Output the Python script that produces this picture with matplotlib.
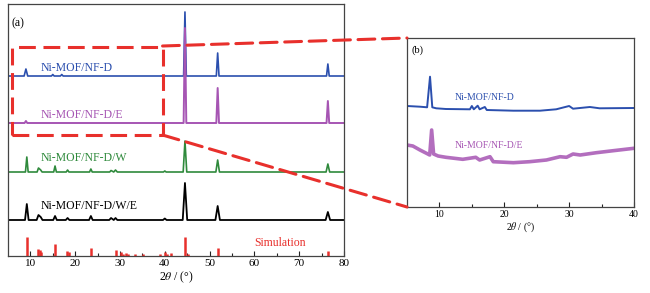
import matplotlib

matplotlib.use("Agg")
import matplotlib.pyplot as plt
from matplotlib.patches import Rectangle, ConnectionPatch

plt.rcParams["font.family"] = ["Liberation Serif", "DejaVu Serif"]
plt.rcParams["mathtext.fontset"] = "stix"

# panel (a): 2theta / intensity above each trace's own baseline
d_x = [5, 8.6, 9.0, 9.4, 14.7, 15.0, 15.3, 16.7, 17.0, 17.3, 44.2, 44.5, 44.8,
       51.5, 51.8, 52.1, 76.1, 76.4, 76.7, 80]
d_y = [0, 0, 7, 0, 0, 1.5, 0, 0, 1.5, 0, 0, 64, 0, 0, 23, 0, 0, 12, 0, 0]

de_x = [5, 8.7, 9.0, 9.3, 44.2, 44.5, 44.8, 51.5, 51.8, 52.1, 76.1, 76.4, 76.7, 80]
de_y = [0, 0, 2, 0, 0, 95, 0, 0, 35, 0, 0, 22, 0, 0]

dw_x = [5, 8.9, 9.2, 9.5, 11.5, 11.8, 12.3, 12.6, 15.2, 15.5, 15.8, 18.0, 18.3, 18.6,
        23.2, 23.5, 23.8, 27.7, 28.0, 28.6, 29.0, 29.4, 39.7, 40.0, 40.3,
        44.1, 44.5, 44.9, 51.4, 51.8, 52.2, 76.0, 76.4, 76.8, 80]
dw_y = [0, 0, 15, 0, 0, 4, 2, 0, 0, 6, 0, 0, 2, 0,
        0, 3, 0, 0, 1.5, 0, 2, 0, 0, 1, 0,
        0, 31, 0, 0, 12, 0, 0, 8, 0, 0]

dwe_x = [5, 8.8, 9.2, 9.6, 11.4, 11.8, 12.3, 12.7, 15.1, 15.5, 15.9, 17.9, 18.3, 18.7,
         23.1, 23.5, 23.9, 27.6, 28.0, 28.6, 29.0, 29.4, 39.6, 40.0, 40.4,
         44.0, 44.5, 45.0, 51.3, 51.8, 52.3, 75.9, 76.4, 76.9, 80]
dwe_y = [0, 0, 16, 0, 0, 5, 3, 0, 0, 4, 0, 0, 2, 0,
         0, 4, 0, 0, 2, 0, 2, 0, 0, 1.5, 0,
         0, 37, 0, 0, 14, 0, 0, 8, 0, 0]

sim_pos = [9.3, 11.8, 12.1, 12.4, 15.2, 15.6, 18.2, 18.6, 23.6, 29.1, 30.2, 30.7,
           31.3, 31.7, 33.4, 35.2, 38.9, 40.0, 40.6, 41.4, 44.5, 45.1, 51.8, 76.4]
sim_int = [19, 7, 6, 4, 1, 12, 5, 4, 8, 5.7, 4, 2.3,
           3.3, 2.3, 1.7, 2.3, 2.3, 4, 2.3, 3, 19, 2.3, 8.3, 4.7]

# panel (b): zoom 5-40 degrees
b_d_x = [5, 7, 8.1, 8.55, 8.9, 9.5, 11, 14.7, 15.0, 15.3, 15.9, 16.2, 17.0, 17.3,
         21.4, 25.5, 28, 30, 30.6, 33.2, 34.7, 40]
b_d_y = [101, 100.3, 99.7, 130.3, 99.7, 98.7, 98, 97.7, 101, 97.7, 101.3, 97.7, 100, 97,
         96.3, 96.3, 97.7, 101, 98.3, 100, 98.7, 99]

b_de_x = [5, 5.9, 7, 8, 8.5, 8.8, 9.1, 9.8, 11, 13.6, 15.6, 16.2, 17.8, 18.3,
          21.4, 23.9, 26.5, 28.6, 29.6, 30.6, 31.7, 34.2, 36.8, 40]
b_de_y = [62, 61, 57, 53.7, 52, 77, 53, 51, 49.7, 47.7, 49.7, 47, 50.3, 45.3,
          44.3, 45.3, 47, 50.3, 49.7, 53, 52, 54.3, 56.3, 58.7]

BLUE = "#2b4fae"
PURPLE = "#a655b3"
GREEN = "#2f8a3c"
RED = "#e8302c"
FRAME = "#444444"


def style_axes(ax, xticks, minor):
    for s in ax.spines.values():
        s.set_color(FRAME)
        s.set_linewidth(0.9)
    ax.set_yticks([])
    ax.set_xticks(xticks)
    ax.set_xticks(minor, minor=True)
    ax.tick_params(axis="x", which="major", direction="in", length=3.5, width=0.8,
                   pad=2, labelsize=8, color="#222222")
    ax.tick_params(axis="x", which="minor", direction="in", length=2, width=0.8,
                   color="#222222")


fig = plt.figure(figsize=(6.5, 2.93), dpi=100)
ax_a = fig.add_axes([8 / 650, 37 / 293, 336 / 650, 252 / 293])
ax_b = fig.add_axes([407 / 650, 86 / 293, 227 / 650, 169 / 293])

# panel (a)
ax_a.vlines(sim_pos, 0, sim_int, color=RED, lw=1.8)
ax_a.plot(dwe_x, [v + 36 for v in dwe_y], color="black", lw=1.3)
ax_a.plot(dw_x, [v + 84 for v in dw_y], color=GREEN, lw=1.2)
ax_a.plot(d_x, [v + 180 for v in d_y], color=BLUE, lw=1.2)
ax_a.plot(de_x, [v + 133 for v in de_y], color=PURPLE, lw=1.4)
ax_a.set_xlim(5, 80)
ax_a.set_ylim(0, 252)
style_axes(ax_a, [10, 20, 30, 40, 50, 60, 70, 80], [15, 25, 35, 45, 55, 65, 75])
ax_a.set_xlabel(r"2$\theta$ / (°)", fontsize=8.5, labelpad=1)

ax_a.text(12.2, 188, "Ni-MOF/NF-D", color=BLUE, fontsize=8.5, va="center")
ax_a.text(12.2, 141, "Ni-MOF/NF-D/E", color=PURPLE, fontsize=8.5, va="center")
ax_a.text(12.2, 98, "Ni-MOF/NF-D/W", color=GREEN, fontsize=8.5, va="center")
ax_a.text(12.2, 50, "Ni-MOF/NF-D/W/E", color="black", fontsize=8.5, va="center")
ax_a.text(65.7, 13, "Simulation", color=RED, fontsize=8.5, ha="center", va="center")
ax_a.text(0.03, 0.925, "(a)", transform=ax_a.transAxes, fontsize=8.5,
          ha="center", va="center")

# panel (b)
ax_b.plot(b_de_x, b_de_y, color=PURPLE, lw=2.6, alpha=0.85)
ax_b.plot(b_d_x, b_d_y, color=BLUE, lw=1.4)
ax_b.set_xlim(5, 40)
ax_b.set_ylim(0, 169)
style_axes(ax_b, [10, 20, 30, 40], [15, 25, 35])
ax_b.tick_params(axis="x", labelsize=7)
ax_b.set_xlabel(r"2$\theta$ / (°)", fontsize=7, labelpad=1)
ax_b.text(12.4, 109, "Ni-MOF/NF-D", color=BLUE, fontsize=7, va="center")
ax_b.text(12.4, 61, "Ni-MOF/NF-D/E", color=PURPLE, fontsize=7, va="center")
ax_b.text(0.045, 0.93, "(b)", transform=ax_b.transAxes, fontsize=7.5,
          ha="center", va="center")

# zoom box and connectors
dash = (0, (5.5, 2.5))
box = Rectangle((5.9, 121), 39.5 - 5.9, 209 - 121, fill=False, edgecolor=RED,
                lw=2.2, linestyle=dash, clip_on=False, zorder=5)
ax_a.add_patch(box)
for ya, yb in [(210, 1), (121, 0)]:
    con = ConnectionPatch(xyA=(39.5, ya), coordsA=ax_a.transData,
                          xyB=(0, yb), coordsB=ax_b.transAxes,
                          color=RED, lw=2.2, linestyle=dash, zorder=6)
    fig.add_artist(con)

fig.savefig("out.png", dpi=100)
